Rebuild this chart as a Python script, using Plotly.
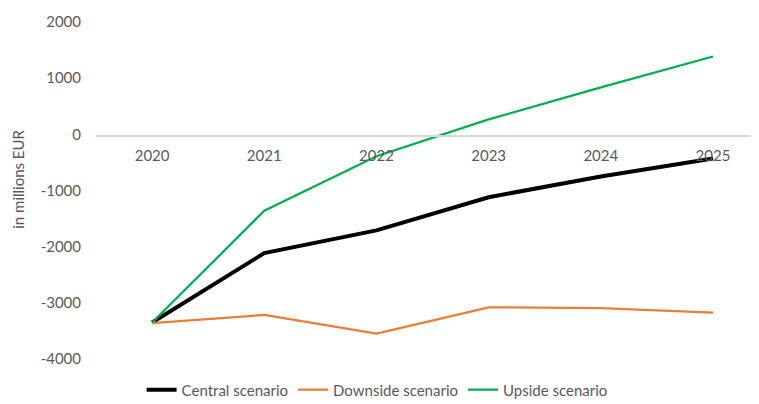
import plotly.graph_objects as go

years = ["2020", "2021", "2022", "2023", "2024", "2025"]
central = [-3350, -2115, -1710, -1120, -750, -430]
downside = [-3360, -3215, -3550, -3080, -3095, -3175]
upside = [-3350, -1360, -390, 265, 835, 1385]
yticks = [-4000, -3000, -2000, -1000, 0, 1000, 2000]
yticklabels = ["-4000", "-3000", "-2000", "-1000", "0", "1000", "2000"]

font_family = "Lato, 'Noto Sans', sans-serif"
grey = "#595959"

fig = go.Figure()
fig.add_trace(go.Scatter(x=years, y=central, mode="lines", name="Central scenario",
                         line=dict(color="#000000", width=4)))
fig.add_trace(go.Scatter(x=years, y=downside, mode="lines", name="Downside scenario",
                         line=dict(color="#ED7D31", width=2.25)))
fig.add_trace(go.Scatter(x=years, y=upside, mode="lines", name="Upside scenario",
                         line=dict(color="#00B050", width=2.25)))

# page body has an 8px default margin; figure sized/offset to compensate
fig.update_layout(
    width=751, height=396,
    margin=dict(l=88, r=0, t=14, b=44.5, autoexpand=False),
    paper_bgcolor="white", plot_bgcolor="white",
    font=dict(family=font_family, color=grey, size=15),
    showlegend=True,
    legend=dict(orientation="h", x=0.424, xanchor="center", y=-0.043, yanchor="top",
                font=dict(size=15, color=grey), itemwidth=30,
                traceorder="normal"),
    xaxis=dict(type="category", range=[-0.5, 5.41], anchor="free", position=(359.5 - 136) / 337.5,
               showline=True, linecolor="#D9D9D9", linewidth=1.5, ticks="",
               showgrid=False, zeroline=False, tickfont=dict(size=15, color=grey),
               ticklabelstandoff=6, automargin=False),
    yaxis=dict(range=[-4000, 2000], tickvals=yticks, ticktext=yticklabels,
               showgrid=False, zeroline=False,
               showline=False, ticks="", tickfont=dict(size=15, color=grey),
               ticklabelstandoff=14, automargin=False),
    annotations=[dict(text="in millions EUR", textangle=-90, xref="paper", yref="paper",
                      x=-(96 - 18) / 663, y=(359.5 - 180) / 337.5, xanchor="center", yanchor="middle",
                      showarrow=False, font=dict(size=15, color=grey))],
)

fig.write_html("out.html")
